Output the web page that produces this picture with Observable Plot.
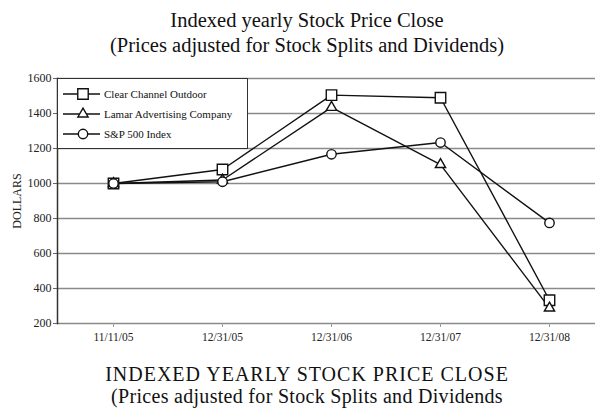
<!DOCTYPE html>
<html>
<head>
<meta charset="utf-8">
<script src="https://cdn.jsdelivr.net/npm/d3@7"></script>
<script src="https://cdn.jsdelivr.net/npm/@observablehq/plot@0.6"></script>
<style>
  html, body { margin: 0; padding: 0; background: #fff; }
  #wrap { position: relative; width: 595px; height: 408px; overflow: hidden; font-family: "Liberation Serif", "Times New Roman", serif; color: #111; }
  .title { position: absolute; left: 19px; right: 0; top: 7.6px; text-align: center; font-size: 20.5px; line-height: 25px; white-space: nowrap; }
  .cap { position: absolute; left: 19px; right: 0; text-align: center; font-size: 20px; line-height: 22px; white-space: nowrap; }
  .cap1 { top: 362.8px; letter-spacing: 1px; }
  .cap2 { top: 385.3px; letter-spacing: 0.3px; }
  #chart { position: absolute; left: 0; top: 60px; height: 290px; }
  #legend { position: absolute; left: 57px; top: 77.5px; width: 191px; height: 71px; box-sizing: border-box; border: 1.5px solid #333; background: #fff; padding-top: 5px; }
  .row { height: 20px; display: flex; align-items: center; font-size: 11px; }
  .row svg { flex: none; }
</style>
</head>
<body>
<div id="wrap">
  <div class="title">Indexed yearly Stock Price Close<br>(Prices adjusted for Stock Splits and Dividends)</div>
  <div id="chart"></div>
  <div class="cap cap1">INDEXED YEARLY STOCK PRICE CLOSE</div>
  <div class="cap cap2">(Prices adjusted for Stock Splits and Dividends</div>
  <div id="legend"></div>
</div>
<script>
const dates = ["11/11/05", "12/31/05", "12/31/06", "12/31/07", "12/31/08"];
const seriesNames = ["Clear Channel Outdoor", "Lamar Advertising Company", "S&P 500 Index"];
const symbols = ["square", "triangle", "circle"];
const clearChannel = [1000, 1080, 1505, 1490, 333];
const lamar = [1000, 1020, 1435, 1108, 288];
const sp500 = [1000, 1010, 1167, 1234, 775];
const yTicks = [200, 400, 600, 800, 1000, 1200, 1400, 1600];

const valuesBySeries = [clearChannel, lamar, sp500];
const data = [];
seriesNames.forEach((s, i) => dates.forEach((d, j) => data.push({series: s, date: d, value: valuesBySeries[i][j]})));

const dotR = {"square": 5.9, "triangle": 3.8, "circle": 4.7};
const d3sym = {"square": d3.symbolSquare, "triangle": d3.symbolTriangle, "circle": d3.symbolCircle};

const chart = Plot.plot({
  width: 595,
  height: 290,
  marginLeft: 57,
  marginRight: -10,
  marginTop: 18,
  marginBottom: 27,
  style: {fontFamily: "Liberation Serif, Times New Roman, serif", fontSize: "12px", color: "#222", background: "transparent", overflow: "visible"},
  x: {type: "point", domain: dates, padding: 0.5, label: null},
  y: {domain: [200, 1600], label: null},
  marks: [
    Plot.ruleY(yTicks, {stroke: "#8a8a8a", strokeWidth: 1.6}),
    Plot.axisY({ticks: yTicks, tickSize: 4, tickPadding: 2, tickFormat: d => String(d), stroke: "#666",
      label: "DOLLARS", labelAnchor: "center", labelArrow: "none", labelOffset: 45, fontSize: 12}),
    Plot.axisX({tickSize: 4, tickPadding: 5.5, stroke: "#999", fontSize: 11.5}),
    Plot.frame({anchor: "left", stroke: "#333", strokeWidth: 1.5}),
    Plot.line(data, {x: "date", y: "value", z: "series", stroke: "#111", strokeWidth: 1.4}),
    ...seriesNames.map((s, i) => Plot.dot(data.filter(d => d.series === s), {
      x: "date", y: "value", symbol: () => symbols[i], r: dotR[symbols[i]], fill: "white", stroke: "#111", strokeWidth: 1.4
    }))
  ]
});
document.getElementById("chart").appendChild(chart);

// legend
const legend = d3.select("#legend");
seriesNames.forEach((s, i) => {
  const row = legend.append("div").attr("class", "row");
  const svg = row.append("svg").attr("width", 46).attr("height", 20);
  svg.append("line").attr("x1", 5).attr("x2", 42).attr("y1", 10).attr("y2", 10).attr("stroke", "#111").attr("stroke-width", 1.4);
  svg.append("path").attr("transform", "translate(25,10)")
    .attr("d", d3.symbol(d3sym[symbols[i]], Math.PI * dotR[symbols[i]] ** 2)())
    .attr("fill", "white").attr("stroke", "#111").attr("stroke-width", 1.4);
  row.append("span").text(s);
});
</script>
</body>
</html>
